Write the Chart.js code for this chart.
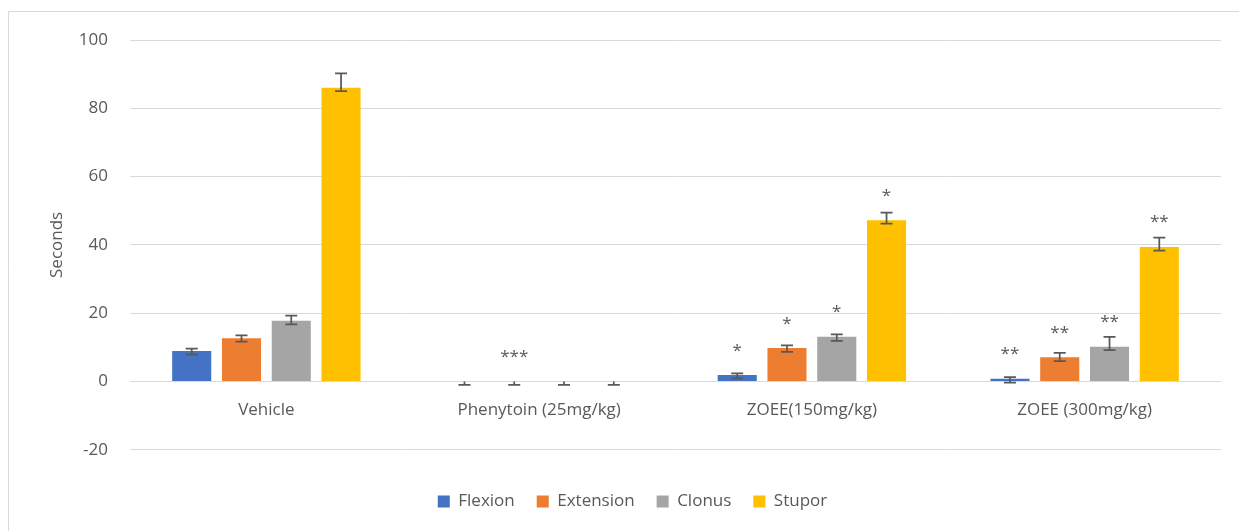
<!DOCTYPE html>
<html>
<head>
<meta charset="utf-8">
<script src="https://cdn.jsdelivr.net/npm/chart.js@4.4.1/dist/chart.umd.min.js"></script>
<style>
  html, body { margin: 0; padding: 0; background: #ffffff; }
  #wrap { position: relative; width: 1239px; height: 531px; }
</style>
</head>
<body>
<div id="wrap"><canvas id="c" width="1239" height="531"></canvas></div>
<script>
// ---- data ----
const categories = ['Vehicle', 'Phenytoin (25mg/kg)', 'ZOEE(150mg/kg)', 'ZOEE (300mg/kg)'];
const seriesNames = ['Flexion', 'Extension', 'Clonus', 'Stupor'];
const flexion   = [8.9, 0, 1.9, 0.8];
const extension = [12.7, 0, 9.8, 7.1];
const clonus    = [17.8, 0, 13.1, 10.2];
const stupor    = [86.0, 0, 47.2, 39.4];
// error bar extents (plus / minus)
const flexionErrPlus    = [0.7, 0, 0.5, 0.5];
const flexionErrMinus   = [1.0, 1.0, 1.0, 1.1];
const extensionErrPlus  = [0.8, 0, 0.75, 1.25];
const extensionErrMinus = [1.0, 1.0, 1.1, 1.1];
const clonusErrPlus     = [1.5, 0, 0.7, 2.85];
const clonusErrMinus    = [1.1, 1.0, 1.2, 1.0];
const stuporErrPlus     = [4.2, 0, 2.25, 2.7];
const stuporErrMinus    = [1.0, 1.0, 1.0, 1.1];
// significance labels
const flexionSig   = ['', '', '*', '**'];
const extensionSig = ['', '***', '*', '**'];
const clonusSig    = ['', '', '*', '**'];
const stuporSig    = ['', '', '*', '**'];
const yTicks = [-20, 0, 20, 40, 60, 80, 100];
const yTitle = 'Seconds';

const colors = ['#4472C4', '#ED7D31', '#A5A5A5', '#FFC000'];
const FONT = "'Open Sans', 'Liberation Sans', sans-serif";
const TXT = '#595959';

const values = [flexion, extension, clonus, stupor];
const errPlus = [flexionErrPlus, extensionErrPlus, clonusErrPlus, stuporErrPlus];
const errMinus = [flexionErrMinus, extensionErrMinus, clonusErrMinus, stuporErrMinus];
const sigs = [flexionSig, extensionSig, clonusSig, stuporSig];

const datasets = seriesNames.map((n, i) => ({
  label: n,
  data: values[i],
  backgroundColor: colors[i],
  borderWidth: 0,
  categoryPercentage: 0.73,
  barPercentage: 0.785,
  errPlus: errPlus[i],
  errMinus: errMinus[i],
  sig: sigs[i]
}));

const frame = {
  id: 'frame',
  afterLayout(chart) {
    // Excel places the legend slightly right of the canvas centre
    if (chart.legend) { chart.legend.left += 18; chart.legend.right += 18; }
  },
  beforeDraw(chart) {
    const ctx = chart.ctx;
    ctx.save();
    ctx.strokeStyle = '#d9d9d9';
    ctx.lineWidth = 1;
    ctx.beginPath();
    ctx.moveTo(8.5, 531);
    ctx.lineTo(8.5, 11.5);
    ctx.lineTo(1239, 11.5);
    ctx.stroke();
    ctx.restore();
  }
};

const errorBars = {
  id: 'errorBars',
  afterDatasetsDraw(chart) {
    const ctx = chart.ctx;
    const y = chart.scales.y;
    ctx.save();
    chart.data.datasets.forEach((ds, di) => {
      const meta = chart.getDatasetMeta(di);
      meta.data.forEach((el, i) => {
        const v = ds.data[i];
        const hi = y.getPixelForValue(v + ds.errPlus[i]);
        const lo = y.getPixelForValue(v - ds.errMinus[i]);
        const x = el.x;
        ctx.strokeStyle = '#595959';
        ctx.lineWidth = 1.75;
        ctx.beginPath();
        ctx.moveTo(x, hi); ctx.lineTo(x, lo);
        if (ds.errPlus[i] > 0) { ctx.moveTo(x - 6, hi); ctx.lineTo(x + 6, hi); }
        if (ds.errMinus[i] > 0) { ctx.moveTo(x - 6, lo); ctx.lineTo(x + 6, lo); }
        ctx.stroke();
        const s = ds.sig[i];
        if (s) {
          ctx.fillStyle = TXT;
          ctx.font = '17px ' + FONT;
          ctx.textAlign = 'center';
          ctx.textBaseline = 'alphabetic';
          ctx.fillText(s, x, el.y - 29 + 9.5);
        }
      });
    });
    ctx.restore();
  }
};

new Chart(document.getElementById('c'), {
  type: 'bar',
  data: { labels: categories, datasets },
  plugins: [frame, errorBars],
  options: {
    responsive: false,
    animation: false,
    layout: { padding: { left: 8, top: 40, right: 18, bottom: 11 } },
    plugins: {
      legend: {
        position: 'bottom',
        title: { display: true, text: ' ', font: { size: 1 }, padding: { top: 0, bottom: 20 } },
        labels: {
          boxWidth: 12, boxHeight: 12, padding: 22,
          color: TXT, font: { family: FONT, size: 17 }
        }
      },
      tooltip: { enabled: false }
    },
    scales: {
      x: {
        position: { y: 0 },
        grid: { display: false, drawTicks: false },
        border: { display: false },
        ticks: { color: TXT, font: { family: FONT, size: 17 }, padding: 18, maxRotation: 0 }
      },
      y: {
        min: -20, max: 100,
        afterBuildTicks(scale) { scale.ticks = yTicks.map(v => ({ value: v })); },
        afterFit(scale) { scale.width = 122; },
        grid: { color: '#d9d9d9', lineWidth: 1, drawTicks: false },
        border: { display: false },
        ticks: { color: TXT, font: { family: FONT, size: 17 }, padding: 22 },
        title: { display: true, text: yTitle, color: TXT, font: { family: FONT, size: 17 }, padding: { top: 39, bottom: 0 } }
      }
    }
  }
});
</script>
</body>
</html>
